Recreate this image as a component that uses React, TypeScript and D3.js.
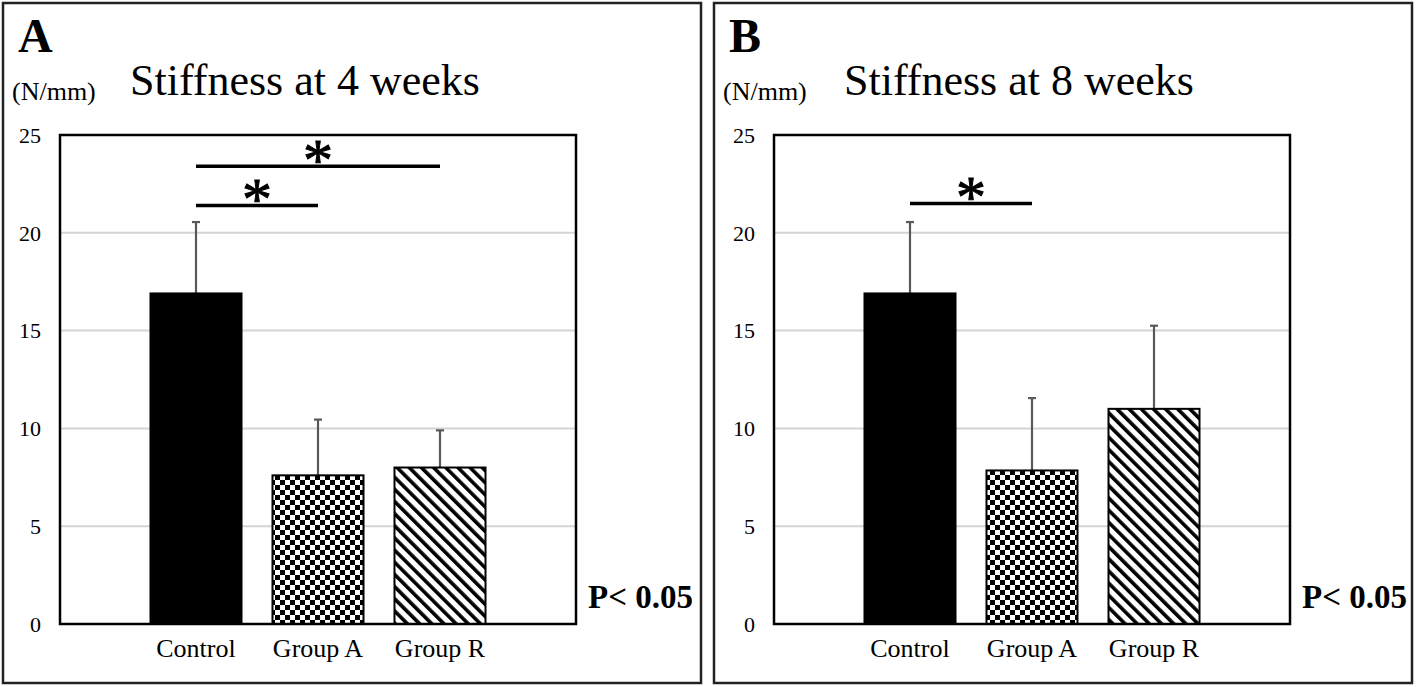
import React from 'react';
import * as d3 from 'd3';

const categories = ["Control", "Group A", "Group R"];
const yTicks = [0, 5, 10, 15, 20, 25];

// 4 weeks
const means4 = [16.9, 7.6, 8.0];
const sd4 = [3.65, 2.85, 1.9];
const sig4 = [
  { from: 0, to: 2, level: 23.4 },
  { from: 0, to: 1, level: 21.4 },
];

// 8 weeks
const means8 = [16.9, 7.85, 11.0];
const sd8 = [3.65, 3.7, 4.25];
const sig8 = [{ from: 0, to: 1, level: 21.5 }];

const fills = ["#000", "url(#checker)", "url(#stripes)"];
const serif = "'Liberation Serif', 'Times New Roman', serif";

type Sig = { from: number; to: number; level: number };

const Panel = ({ letter, title, means, sds, sigs, frameX, plotLeft }: {
  letter: string; title: string; means: number[]; sds: number[]; sigs: Sig[];
  frameX: number; plotLeft: number;
}) => {
  const plotTop = 135, plotBottom = 624, plotW = 516;
  const plotRight = plotLeft + plotW;

  const y = d3.scaleLinear().domain([0, 25]).range([plotBottom, plotTop]);
  const x = d3.scaleBand<string>()
    .domain(categories)
    .range([plotLeft + 75, plotRight - 75])
    .paddingInner(0.254)
    .paddingOuter(0.127);
  const cx = (i: number) => x(categories[i])! + x.bandwidth() / 2;

  return (
    <g>
      <rect x={frameX} y={3} width={698} height={680} fill="none" stroke="#222" strokeWidth={2.5} />
      <text x={frameX + 15} y={52} fontSize={48} fontWeight="bold" fontFamily={serif}>{letter}</text>
      <text x={plotLeft + 70} y={95} fontSize={44} fontFamily={serif}>{title}</text>
      <text x={frameX + 9} y={100} fontSize={26} fontFamily={serif}>(N/mm)</text>

      {yTicks.filter(t => t > 0 && t < 25).map(t => (
        <line key={t} x1={plotLeft} x2={plotRight} y1={y(t)} y2={y(t)} stroke="#d4d4d4" strokeWidth={2} />
      ))}
      {yTicks.map(t => (
        <text key={t} x={plotLeft - 19} y={y(t)} dy="0.35em" textAnchor="end" fontSize={22} fontFamily={serif}>{t}</text>
      ))}

      {means.map((m, i) => (
        <g key={i}>
          <line x1={cx(i)} x2={cx(i)} y1={y(m)} y2={y(m + sds[i])} stroke="#595959" strokeWidth={2.2} />
          <line x1={cx(i) - 4} x2={cx(i) + 4} y1={y(m + sds[i])} y2={y(m + sds[i])} stroke="#595959" strokeWidth={2.2} />
          <rect x={x(categories[i])} y={y(m)} width={x.bandwidth()} height={y(0) - y(m)}
            fill={fills[i]} stroke="#000" strokeWidth={2} />
        </g>
      ))}

      <rect x={plotLeft} y={plotTop} width={plotW} height={plotBottom - plotTop} fill="none" stroke="#000" strokeWidth={2.5} />

      {categories.map((c, i) => (
        <text key={c} x={cx(i)} y={657} textAnchor="middle" fontSize={26} fontFamily={serif}>{c}</text>
      ))}

      {sigs.map((s, k) => (
        <g key={k}>
          <line x1={cx(s.from)} x2={cx(s.to)} y1={y(s.level)} y2={y(s.level)} stroke="#000" strokeWidth={3.5} />
          <text x={(cx(s.from) + cx(s.to)) / 2} y={y(s.level) + 14} textAnchor="middle" fontSize={60}
            fontFamily={serif} stroke="#000" strokeWidth={1}>*</text>
        </g>
      ))}

      <text x={plotRight + 12} y={608} fontSize={33} fontWeight="bold" fontFamily={serif}>P&lt; 0.05</text>
    </g>
  );
};

export default function App() {
  return (
    <svg width={1418} height={687} style={{ position: 'absolute', left: 0, top: 0, background: '#fff' }}>
      <defs>
        <pattern id="checker" width={10} height={10} patternUnits="userSpaceOnUse">
          <rect width={10} height={10} fill="#fff" />
          <rect width={5} height={5} fill="#000" />
          <rect x={5} y={5} width={5} height={5} fill="#000" />
        </pattern>
        <pattern id="stripes" width={8.6} height={8.6} patternUnits="userSpaceOnUse" patternTransform="rotate(-45)">
          <rect width={8.6} height={8.6} fill="#fff" />
          <rect width={3.6} height={8.6} fill="#000" />
        </pattern>
      </defs>
      <rect width={1418} height={687} fill="#fff" />
      <Panel letter="A" title="Stiffness at 4 weeks" means={means4} sds={sd4} sigs={sig4} frameX={3} plotLeft={60} />
      <Panel letter="B" title="Stiffness at 8 weeks" means={means8} sds={sd8} sigs={sig8} frameX={714} plotLeft={774} />
    </svg>
  );
}
